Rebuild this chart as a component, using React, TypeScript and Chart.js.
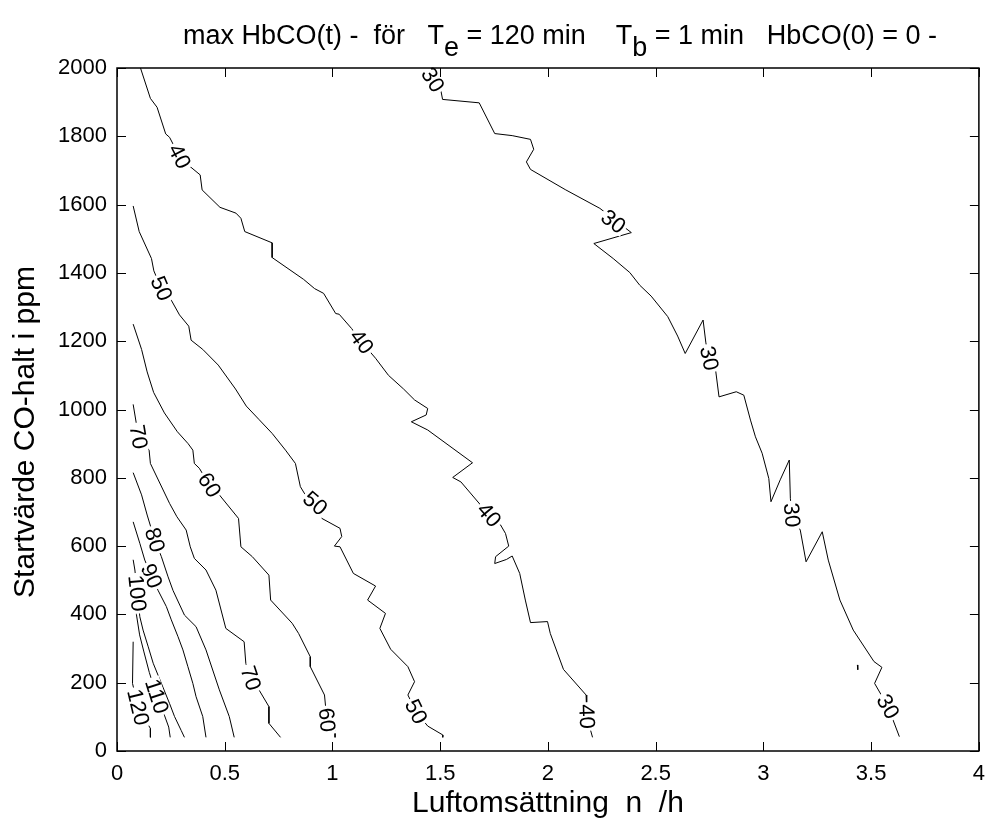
import React, { useEffect, useRef } from "react";
import { Chart, registerables } from "chart.js";
Chart.register(...registerables);

// ---- axis ranges / ticks ----
const xRange = [0, 4];
const yRange = [0, 2000];
const xStep = 0.5;
const yStep = 200;

// ---- texts ----
const titleParts: [string, boolean][] = [
  ["max HbCO(t) -  för   T", false],
  ["e", true],
  [" = 120 min    T", false],
  ["b", true],
  [" = 1 min   HbCO(0) = 0 -", false],
];
const xLabel = "Luftomsättning  n  /h";
const yLabel = "Startvärde CO-halt i ppm";

// ---- contour lines [x, y] ----
const level30: number[][] = [
  [1.44, 2000], [1.48, 1960], [1.504, 1931], [1.511, 1908], [1.681, 1898], [1.753, 1808],
  [1.834, 1802], [1.919, 1791], [1.934, 1762], [1.9, 1725], [1.919, 1703], [2.08, 1644],
  [2.241, 1589], [2.387, 1518], [2.213, 1486], [2.303, 1442], [2.38, 1401], [2.426, 1364],
  [2.479, 1332], [2.556, 1272], [2.602, 1215], [2.637, 1164], [2.72, 1262], [2.733, 1195],
  [2.748, 1150], [2.779, 1111], [2.794, 1037], [2.874, 1052], [2.909, 1042], [2.94, 969],
  [2.963, 920], [2.994, 872], [3.025, 798], [3.035, 730], [3.078, 794], [3.12, 852],
  [3.125, 740], [3.132, 691], [3.171, 647], [3.198, 554], [3.273, 642], [3.301, 559],
  [3.355, 442], [3.417, 354], [3.513, 262], [3.55, 245], [3.516, 198], [3.578, 130],
  [3.631, 42],
];
const level30b: number[][] = [[3.436, 252], [3.438, 238]];
const level40: number[][] = [
  [0.109, 2000], [0.155, 1911], [0.186, 1885], [0.226, 1807], [0.244, 1797], [0.29, 1741],
  [0.34, 1711], [0.386, 1687], [0.395, 1643], [0.478, 1592], [0.552, 1575], [0.575, 1560],
  [0.593, 1521], [0.72, 1488], [0.72, 1445], [0.866, 1381], [0.917, 1354], [0.959, 1340],
  [1.015, 1281], [1.031, 1279], [1.089, 1237], [1.135, 1198], [1.2, 1150], [1.26, 1100],
  [1.33, 1060], [1.381, 1028], [1.442, 1003], [1.435, 984], [1.366, 964], [1.442, 940],
  [1.65, 844], [1.558, 801], [1.596, 788], [1.727, 691], [1.78, 662], [1.803, 637],
  [1.818, 600], [1.757, 569], [1.753, 549], [1.808, 561], [1.834, 571], [1.869, 520],
  [1.895, 442], [1.919, 376], [1.998, 379], [2.011, 344], [2.072, 239], [2.177, 164],
  [2.18, 101], [2.207, 40],
];
const level50: number[][] = [
  [0.075, 1596], [0.103, 1521], [0.16, 1442], [0.171, 1406], [0.206, 1354], [0.252, 1320],
  [0.29, 1277], [0.333, 1244], [0.344, 1203], [0.398, 1176], [0.47, 1130], [0.55, 1060],
  [0.6, 1010], [0.66, 970], [0.72, 930], [0.782, 881], [0.828, 842], [0.851, 774],
  [0.874, 750], [0.92, 725], [0.951, 681], [1.035, 652], [1.043, 628], [1.009, 600],
  [1.035, 598], [1.097, 520], [1.2, 483], [1.163, 442], [1.246, 403], [1.22, 359],
  [1.27, 298], [1.35, 247], [1.381, 203], [1.35, 164], [1.388, 115], [1.442, 73],
  [1.512, 47], [1.512, 40],
];
const level60: number[][] = [
  [0.075, 1250], [0.114, 1176], [0.14, 1110], [0.17, 1050], [0.22, 990], [0.28, 935],
  [0.33, 900], [0.352, 881], [0.359, 842], [0.382, 828], [0.429, 779], [0.475, 750],
  [0.564, 681], [0.575, 598], [0.628, 569], [0.705, 515], [0.713, 442], [0.813, 374],
  [0.843, 344], [0.897, 276], [0.897, 247], [0.963, 164], [0.974, 91], [1.012, 61],
  [1.012, 40],
];
const level70: number[][] = [
  [0.075, 1015], [0.1, 920], [0.149, 881], [0.155, 842], [0.244, 725], [0.278, 686],
  [0.321, 647], [0.34, 598], [0.359, 564], [0.413, 530], [0.459, 471], [0.505, 359],
  [0.59, 320], [0.598, 256], [0.621, 213], [0.659, 179], [0.705, 130], [0.705, 81],
  [0.759, 40],
];
const level80: number[][] = [
  [0.075, 815], [0.114, 750], [0.14, 691], [0.175, 618], [0.206, 569], [0.237, 510],
  [0.26, 470], [0.313, 398], [0.367, 364], [0.413, 296], [0.475, 179], [0.521, 101],
  [0.544, 40],
];
const level90: number[][] = [
  [0.075, 671], [0.106, 608], [0.129, 559], [0.16, 512], [0.19, 471], [0.229, 423],
  [0.252, 384], [0.283, 335], [0.306, 296], [0.329, 247], [0.352, 198], [0.367, 159],
  [0.398, 101], [0.413, 40],
];
const level100: number[][] = [
  [0.075, 560], [0.083, 530], [0.094, 462], [0.106, 393], [0.121, 354], [0.145, 305],
  [0.168, 257], [0.206, 198], [0.244, 139], [0.267, 101], [0.298, 60], [0.313, 40],
];
const level110: number[][] = [
  [0.075, 450], [0.09, 400], [0.105, 340], [0.125, 290], [0.15, 230], [0.185, 160],
  [0.22, 105], [0.24, 70], [0.247, 40],
];
const level120: number[][] = [
  [0.075, 320], [0.072, 198], [0.098, 128], [0.155, 66], [0.155, 40],
];

// ---- contour label positions [x, y] ----
const labels30: number[][] = [[1.465, 1965], [2.303, 1550], [2.748, 1150], [3.132, 691], [3.578, 130]];
const labels40: number[][] = [[0.29, 1741], [1.135, 1198], [1.727, 691], [2.18, 101]];
const labels50: number[][] = [[0.206, 1354], [0.92, 725], [1.388, 115]];
const labels60: number[][] = [[0.429, 779], [0.974, 91]];
const labels70: number[][] = [[0.1, 920], [0.621, 213]];
const labels80: number[][] = [[0.175, 618]];
const labels90: number[][] = [[0.16, 512]];
const labels100: number[][] = [[0.094, 462]];
const labels110: number[][] = [[0.185, 160]];
const labels120: number[][] = [[0.098, 128]];

const contours = [
  { level: 30, pts: level30, labels: labels30 },
  { level: 30, pts: level30b, labels: [] as number[][] },
  { level: 40, pts: level40, labels: labels40 },
  { level: 50, pts: level50, labels: labels50 },
  { level: 60, pts: level60, labels: labels60 },
  { level: 70, pts: level70, labels: labels70 },
  { level: 80, pts: level80, labels: labels80 },
  { level: 90, pts: level90, labels: labels90 },
  { level: 100, pts: level100, labels: labels100 },
  { level: 110, pts: level110, labels: labels110 },
  { level: 120, pts: level120, labels: labels120 },
];

const FONT = '"Liberation Sans", Arial, Helvetica, sans-serif';
const TICK_FONT_SIZE = 22;
const LABEL_FONT_SIZE = 30;
const TITLE_FONT_SIZE = 27;

const decorPlugin = {
  id: "decor",
  afterDatasetsDraw(chart: any) {
    const ctx = chart.ctx;
    const xs = chart.scales.x;
    const ys = chart.scales.y;
    ctx.save();
    ctx.font = `${TICK_FONT_SIZE}px ${FONT}`;
    contours.forEach((c) => {
      const px = c.pts.map((p) => [xs.getPixelForValue(p[0]), ys.getPixelForValue(p[1])]);
      c.labels.forEach((lab) => {
        const lx = xs.getPixelForValue(lab[0]);
        const ly = ys.getPixelForValue(lab[1]);
        let best = Infinity;
        let ang = 0;
        for (let i = 0; i < px.length - 1; i++) {
          const [ax, ay] = px[i];
          const [bx, by] = px[i + 1];
          const dx = bx - ax, dy = by - ay;
          const len2 = dx * dx + dy * dy || 1;
          let t = ((lx - ax) * dx + (ly - ay) * dy) / len2;
          t = Math.max(0, Math.min(1, t));
          const qx = ax + t * dx - lx, qy = ay + t * dy - ly;
          const d = qx * qx + qy * qy;
          if (d < best) {
            best = d;
            ang = Math.atan2(dy, dx);
          }
        }
        if (ang > Math.PI / 2) ang -= Math.PI;
        if (ang < -Math.PI / 2) ang += Math.PI;
        const text = String(c.level);
        ctx.save();
        ctx.translate(lx, ly);
        ctx.rotate(ang);
        const w = ctx.measureText(text).width;
        ctx.fillStyle = "#fff";
        ctx.fillRect(-w / 2 - 2, -8, w + 4, 16);
        ctx.fillStyle = "#000";
        ctx.textAlign = "center";
        ctx.textBaseline = "middle";
        ctx.fillText(text, 0, 1);
        ctx.restore();
      });
    });
    ctx.restore();
  },
  afterDraw(chart: any) {
    const ctx = chart.ctx;
    const xs = chart.scales.x;
    const ys = chart.scales.y;
    const a = chart.chartArea;
    ctx.save();
    // box
    ctx.strokeStyle = "#000";
    ctx.lineWidth = 1.5;
    ctx.strokeRect(a.left, a.top, a.right - a.left, a.bottom - a.top);
    // inward ticks
    ctx.lineWidth = 1;
    const tl = 9;
    for (let v = xRange[0]; v <= xRange[1] + 1e-9; v += xStep) {
      const p = Math.round(xs.getPixelForValue(v)) + 0.5;
      ctx.beginPath();
      ctx.moveTo(p, a.bottom);
      ctx.lineTo(p, a.bottom - tl);
      ctx.moveTo(p, a.top);
      ctx.lineTo(p, a.top + tl);
      ctx.stroke();
    }
    for (let v = yRange[0]; v <= yRange[1] + 1e-9; v += yStep) {
      const p = Math.round(ys.getPixelForValue(v)) + 0.5;
      ctx.beginPath();
      ctx.moveTo(a.left, p);
      ctx.lineTo(a.left + tl, p);
      ctx.moveTo(a.right, p);
      ctx.lineTo(a.right - tl, p);
      ctx.stroke();
    }
    // title with subscripts
    ctx.fillStyle = "#000";
    ctx.textBaseline = "alphabetic";
    ctx.textAlign = "left";
    ctx.font = `${TITLE_FONT_SIZE}px ${FONT}`;
    let total = 0;
    titleParts.forEach(([t]) => { total += ctx.measureText(t).width; });
    let x = (a.left + a.right) / 2 + 12 - total / 2;
    const baseY = 44;
    titleParts.forEach(([t, sub]) => {
      ctx.fillText(t, x, sub ? baseY + 12 : baseY);
      x += ctx.measureText(t).width;
    });
    // x label
    ctx.font = `${LABEL_FONT_SIZE}px ${FONT}`;
    ctx.textAlign = "center";
    ctx.fillText(xLabel, (a.left + a.right) / 2, 812);
    // y label
    ctx.save();
    ctx.translate(34, 432);
    ctx.rotate(-Math.PI / 2);
    ctx.fillText(yLabel, 0, 0);
    ctx.restore();
    ctx.restore();
  },
};

export default function App() {
  const ref = useRef<HTMLCanvasElement | null>(null);
  useEffect(() => {
    if (!ref.current) return;
    const datasets = contours.map((c) => ({
      label: String(c.level),
      data: c.pts.map((p) => ({ x: p[0], y: p[1] })),
      showLine: true,
      borderColor: "#000",
      borderWidth: 1,
      pointRadius: 0,
      fill: false,
      tension: 0,
    }));
    const chart = new Chart(ref.current, {
      type: "scatter",
      data: { datasets },
      options: {
        animation: false,
        responsive: false,
        events: [],
        layout: { padding: { left: 0, right: 10, top: 68, bottom: 0 } },
        plugins: { legend: { display: false }, tooltip: { enabled: false }, title: { display: false } },
        scales: {
          x: {
            type: "linear",
            min: xRange[0],
            max: xRange[1],
            afterFit: (s: any) => { s.height = 70; },
            afterBuildTicks: (s: any) => {
              const t = [];
              for (let v = xRange[0]; v <= xRange[1] + 1e-9; v += xStep) t.push({ value: v });
              s.ticks = t;
            },
            ticks: {
              color: "#000",
              font: { size: TICK_FONT_SIZE, family: FONT },
              padding: 10,
              maxRotation: 0,
              autoSkip: false,
              callback: (v: any) => String(v),
            },
            grid: { display: false, drawTicks: false },
            border: { display: false },
          },
          y: {
            type: "linear",
            min: yRange[0],
            max: yRange[1],
            afterFit: (s: any) => { s.width = 117; },
            afterBuildTicks: (s: any) => {
              const t = [];
              for (let v = yRange[0]; v <= yRange[1] + 1e-9; v += yStep) t.push({ value: v });
              s.ticks = t;
            },
            ticks: {
              color: "#000",
              font: { size: TICK_FONT_SIZE, family: FONT },
              padding: 10,
              autoSkip: false,
              callback: (v: any) => String(v),
            },
            grid: { display: false, drawTicks: false },
            border: { display: false },
          },
        },
      },
      plugins: [decorPlugin],
    });
    return () => chart.destroy();
  }, []);
  return (
    <div style={{ position: "absolute", left: 0, top: 0, width: 995, height: 821, background: "#fff" }}>
      <canvas ref={ref} width={995} height={821} style={{ display: "block" }} />
    </div>
  );
}
